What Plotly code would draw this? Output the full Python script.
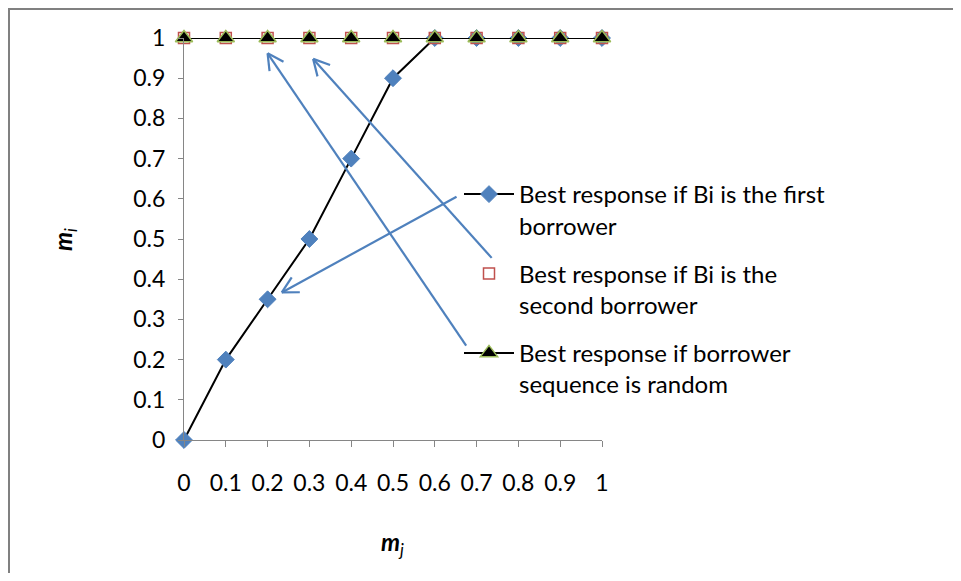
import math
import plotly.graph_objects as go

# ---- data ----
m_j = [0, 0.1, 0.2, 0.3, 0.4, 0.5, 0.6, 0.7, 0.8, 0.9, 1]
first_borrower = [0, 0.2, 0.35, 0.5, 0.7, 0.9, 1, 1, 1, 1, 1]
second_borrower = [1, 1, 1, 1, 1, 1, 1, 1, 1, 1, 1]
random_sequence = [1, 1, 1, 1, 1, 1, 1, 1, 1, 1, 1]
tick_vals = [0, 0.1, 0.2, 0.3, 0.4, 0.5, 0.6, 0.7, 0.8, 0.9, 1]
tick_text = ["0", "0.1", "0.2", "0.3", "0.4", "0.5", "0.6", "0.7", "0.8", "0.9", "1"]
names = [
    "Best response if Bi is the first<br>borrower",
    "Best response if Bi is the<br>second borrower",
    "Best response if borrower<br>sequence is random",
]
# arrows: (tail x, tail y, head x, head y) in data units
arrows = [
    (0.652, 0.605, 0.234, 0.367),
    (0.736, 0.453, 0.309, 0.948),
    (0.675, 0.235, 0.200, 0.962),
]

OFF = 8  # default page body margin
W, H = 961 - 2 * OFF, 581 - 2 * OFF
# plot area in page pixels
PL, PR, PT, PB = 184, 602, 38, 440
L, R, T, B = PL - OFF, PR - OFF, PT - OFF, PB - OFF
FONT = "Lato"
BLUE = "#4F81BD"


def px_x(p):  # page px -> paper x
    return (p - OFF - L) / (R - L)


def px_y(p):  # page px -> paper y
    return (B - (p - OFF)) / (B - T)


fig = go.Figure()
fig.add_trace(go.Scatter(
    x=m_j, y=first_borrower, name=names[0], legendgroup="a",
    mode="lines+markers", line=dict(color="black", width=2),
    marker=dict(symbol="diamond", size=13, color=BLUE, line=dict(color=BLUE, width=1)),
    cliponaxis=False,
))
fig.add_trace(go.Scatter(
    x=m_j, y=second_borrower, name=names[1], legendgroup="b",
    mode="markers",
    marker=dict(symbol="square-open", size=11, color="#C0504D", line=dict(color="#C0504D", width=1.5)),
    cliponaxis=False,
))
fig.add_trace(go.Scatter(
    x=m_j, y=random_sequence, name=names[2], legendgroup="c",
    mode="lines+markers", line=dict(color="black", width=2),
    marker=dict(symbol="triangle-up", size=15, color="black", line=dict(color="#9BBB59", width=1.5)),
    cliponaxis=False,
))

# arrows: shaft + open "V" head
sx, sy = (R - L), (B - T)  # px per data unit
head_len, head_ang = 18, math.radians(28)
for (tx, ty, hx, hy) in arrows:
    fig.add_shape(type="line", xref="x", yref="y", x0=tx, y0=ty, x1=hx, y1=hy,
                  line=dict(color=BLUE, width=2.2), layer="above")
    dx, dy = (tx - hx) * sx, (ty - hy) * sy
    n = math.hypot(dx, dy)
    ux, uy = dx / n, dy / n
    for s in (1, -1):
        c, si = math.cos(s * head_ang), math.sin(s * head_ang)
        rx, ry = ux * c - uy * si, ux * si + uy * c
        fig.add_shape(type="line", xref="x", yref="y",
                      x0=hx, y0=hy, x1=hx + rx * head_len / sx, y1=hy + ry * head_len / sy,
                      line=dict(color=BLUE, width=2.2), layer="above")

# outer frame (cropped on right/bottom)
fig.add_shape(type="line", xref="paper", yref="paper",
              x0=px_x(7), x1=px_x(961 + 5), y0=px_y(8.5), y1=px_y(8.5),
              line=dict(color="#808080", width=3))
fig.add_shape(type="line", xref="paper", yref="paper",
              x0=px_x(8.5), x1=px_x(8.5), y0=px_y(7), y1=px_y(581 + 5),
              line=dict(color="#808080", width=3))

axis_common = dict(
    range=[0, 1], showgrid=False, zeroline=False, showline=True,
    linecolor="#868686", linewidth=1, ticks="outside", tickcolor="#868686",
    tickfont=dict(family=FONT, size=23, color="black"),
    tickvals=tick_vals, ticktext=tick_text,
)
fig.update_xaxes(**axis_common, ticklen=6, ticklabelstandoff=16)
fig.update_yaxes(**axis_common, ticklen=5, ticklabelstandoff=8)

# axis titles
fig.add_annotation(text="<b><i>m</i></b><sub><i>j</i></sub>", xref="paper", yref="paper",
                   x=px_x(392), y=px_y(543), xanchor="center", yanchor="middle",
                   showarrow=False, font=dict(family=FONT, size=24, color="black"))
fig.add_annotation(text="<b><i>m</i></b><sub><i>i</i></sub>", xref="paper", yref="paper",
                   x=px_x(64), y=px_y(240), xanchor="center", yanchor="middle",
                   showarrow=False, textangle=-90,
                   font=dict(family=FONT, size=24, color="black"))

fig.update_layout(
    width=W, height=H,
    margin=dict(l=L, r=W - R, t=T, b=H - B, autoexpand=False),
    paper_bgcolor="white", plot_bgcolor="white",
    showlegend=True,
    legend=dict(
        x=px_x(459), y=px_y(172), xanchor="left", yanchor="top",
        bgcolor="rgba(0,0,0,0)", font=dict(family=FONT, size=24, color="black"),
        valign="top", tracegroupgap=14, itemwidth=50,
    ),
)

fig.write_html("out.html")
